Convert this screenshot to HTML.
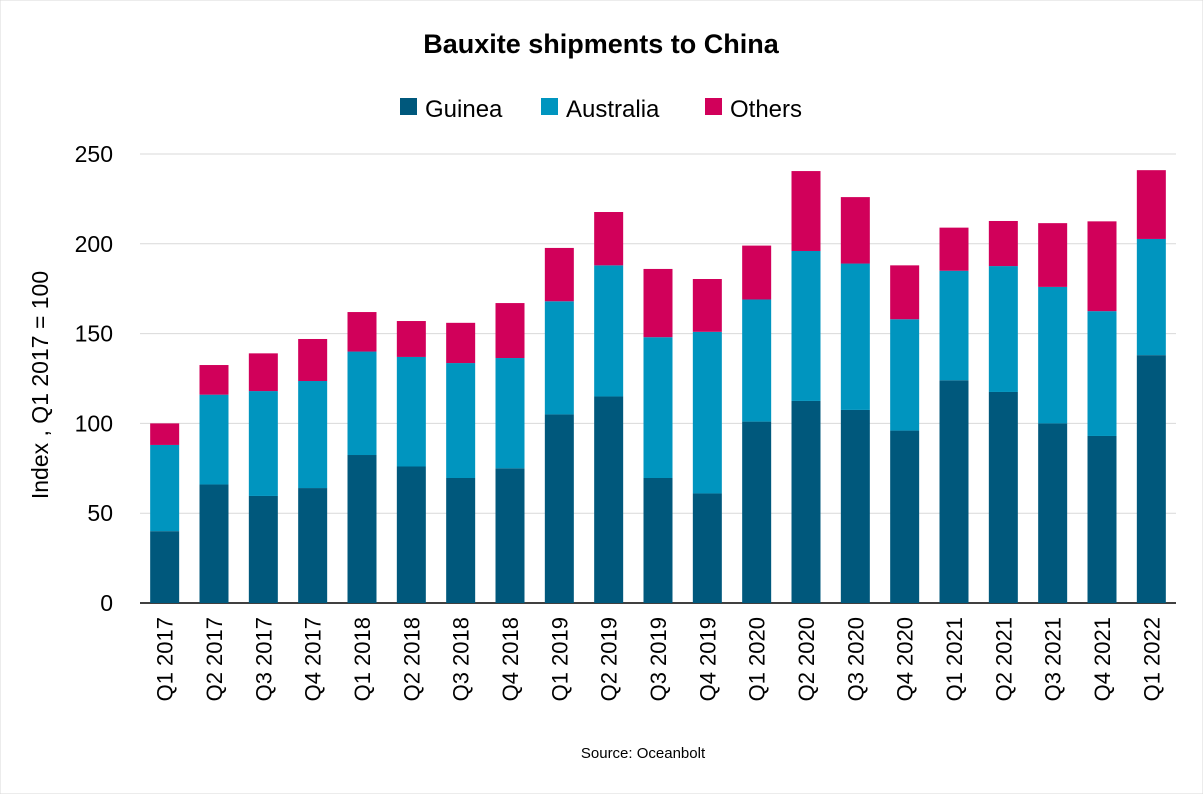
<!DOCTYPE html>
<html><head><meta charset="utf-8"><style>
body{margin:0;background:#fff;font-family:"Liberation Sans","DejaVu Sans",sans-serif;}
svg text{font-family:"Liberation Sans","DejaVu Sans",sans-serif;}
</style></head><body>
<svg id="chart" width="1203" height="794" viewBox="0 0 1203 794">
<rect width="1203" height="794" fill="#fff" stroke="#d9d9d9"/>
<text x="601" y="53" text-anchor="middle" font-size="27" font-weight="bold" fill="#000">Bauxite shipments to China</text>
<g id="legend">
<rect x="400" y="98" width="17" height="17" fill="#00587c"/>
<text x="425" y="117" font-size="24" fill="#000">Guinea</text>
<rect x="541" y="98" width="17" height="17" fill="#0095bf"/>
<text x="566" y="117" font-size="24" fill="#000">Australia</text>
<rect x="705" y="98" width="17" height="17" fill="#d1005a"/>
<text x="730" y="117" font-size="24" fill="#000">Others</text>
</g>
<text transform="translate(48,385) rotate(-90)" text-anchor="middle" font-size="23" fill="#000">Index , Q1 2017 = 100</text>
<g id="grid"></g><g id="bars"></g><g id="xlabels"></g>
<text x="643" y="758" text-anchor="middle" font-size="15" fill="#000">Source: Oceanbolt</text>
</svg>
<script>
const categories=["Q1 2017","Q2 2017","Q3 2017","Q4 2017","Q1 2018","Q2 2018","Q3 2018","Q4 2018","Q1 2019","Q2 2019","Q3 2019","Q4 2019","Q1 2020","Q2 2020","Q3 2020","Q4 2020","Q1 2021","Q2 2021","Q3 2021","Q4 2021","Q1 2022"];
const guinea=[40,66,59.6,64,82.4,76,69.6,75,105,115,69.6,61,101,112.5,107.5,96,124,117.5,100,93,138];
const australia=[48,50,58.4,59.6,57.6,61,64,61.4,63,73,78.4,90,68,83.5,81.5,62,61,70.1,76,69.5,64.7];
const others=[12,16.5,21,23.4,22,20,22.4,30.6,29.7,29.7,38,29.4,30,44.5,37,30,24,25.1,35.5,50,38.3];
const yTicks=[0,50,100,150,200,250];
const NS="http://www.w3.org/2000/svg";
const x0=140,x1=1176,yBase=603,yTop=154,yMax=250;
const y=v=>yBase-(v/yMax)*(yBase-yTop);
const step=(x1-x0)/categories.length;
const xc=i=>x0+step*(i+0.5);
const bw=29;
function mk(tag,attrs,parent){const e=document.createElementNS(NS,tag);for(const k in attrs)e.setAttribute(k,attrs[k]);parent.appendChild(e);return e;}
const grid=document.getElementById('grid');
yTicks.forEach(t=>{
  const l=mk('line',{x1:x0,x2:x1,y1:y(t),y2:y(t),stroke:t===0?'#000':'#d9d9d9','stroke-width':t===0?1.5:1},grid);
  
  
  const tx=mk('text',{x:113,y:y(t)+8,'text-anchor':'end','font-size':23,fill:'#000'},grid);
  tx.textContent=t;
  
  
});
const bars=document.getElementById('bars'),xl=document.getElementById('xlabels');
const series=[[guinea,'#00587c','guinea'],[australia,'#0095bf','australia'],[others,'#d1005a','others']];
categories.forEach((c,i)=>{
  let base=0;
  series.forEach(([arr,col,nm])=>{
    const v=arr[i];
    const r=mk('rect',{x:xc(i)-bw/2,y:y(base+v),width:bw,height:y(base)-y(base+v),fill:col},bars);
    
    
    base+=v;
  });
  const t=mk('text',{transform:`translate(${xc(i)+8},617) rotate(-90)`,'text-anchor':'end','font-size':22,fill:'#000'},xl);
  t.textContent=c;
  
  
});
</script>
</body></html>
